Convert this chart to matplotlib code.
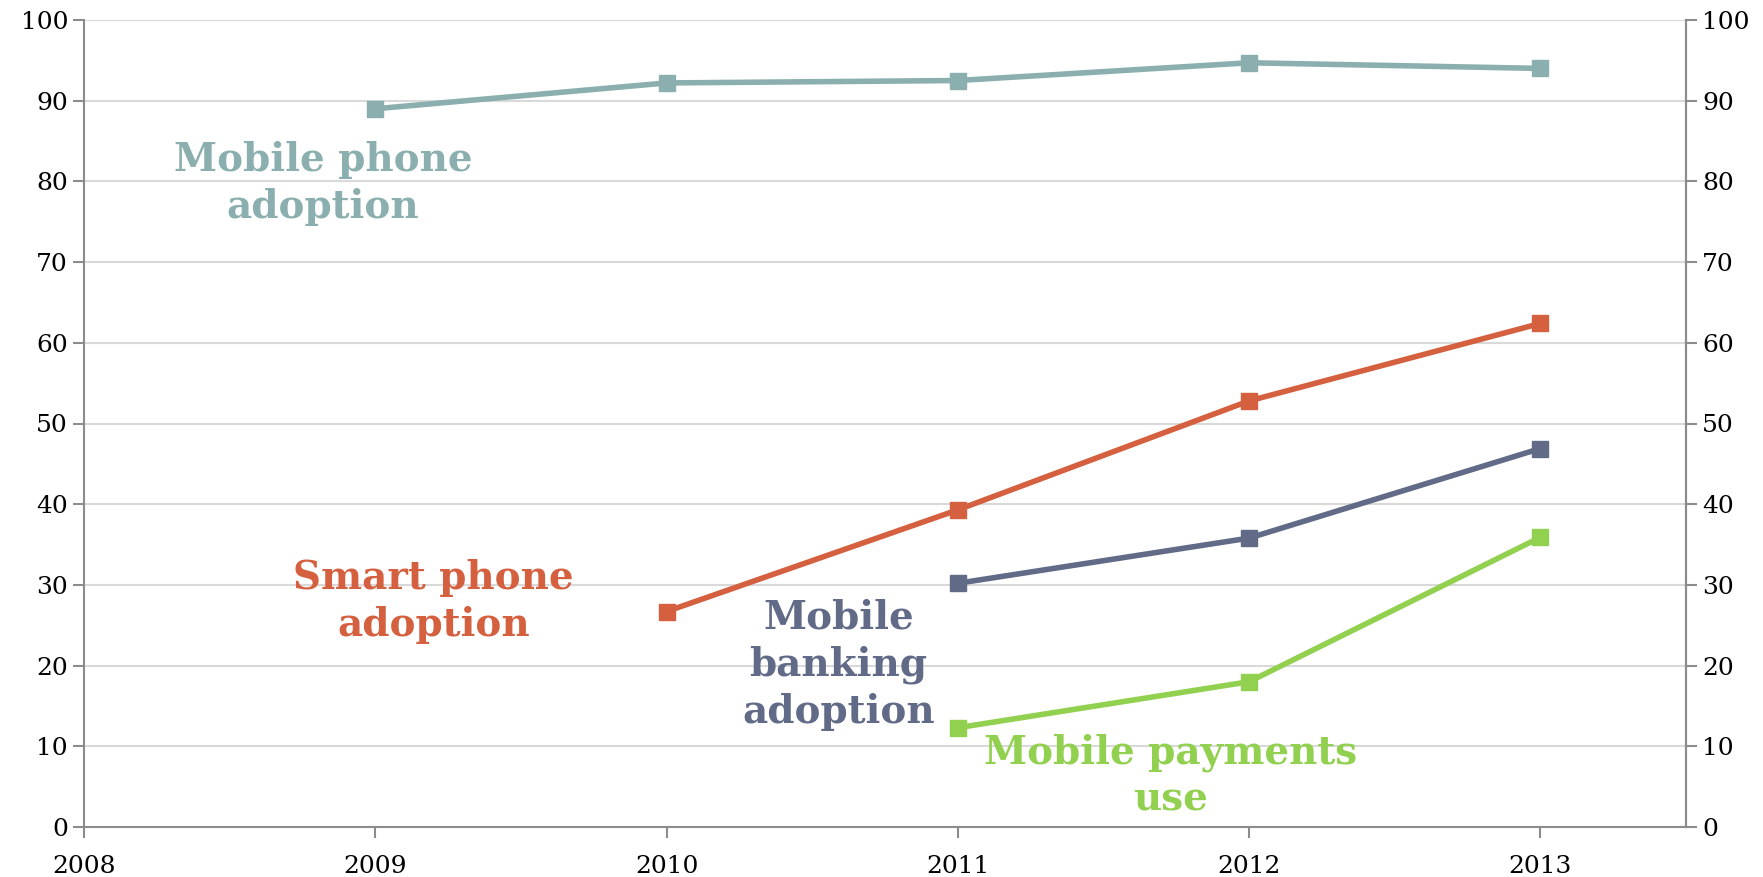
import numpy as np
import matplotlib.pyplot as plt

plt.rcParams['font.family'] = ['DejaVu Serif']

years = [2008, 2009, 2010, 2011, 2012, 2013]

phone_years = [2009, 2010, 2011, 2012, 2013]
phone = [89.0, 92.2, 92.5, 94.7, 94.0]

smart_years = [2010, 2011, 2012, 2013]
smart = [26.7, 39.3, 52.8, 62.4]

banking_years = [2011, 2012, 2013]
banking = [30.2, 35.8, 46.9]

payments_years = [2011, 2012, 2013]
payments = [12.3, 18.0, 35.9]

c_phone = '#8AAFAE'
c_smart = '#D4603F'
c_bank = '#616A87'
c_pay = '#92D050'
axis_grey = '#8C8C8C'

fig = plt.figure(figsize=(17.63, 8.77), dpi=100)
ax = fig.add_axes([84 / 1763, 1 - 827 / 877, (1686 - 84) / 1763, (827 - 20) / 877])

ax.set_xlim(2008, 2013.5)
ax.set_ylim(0, 100)
ax.set_yticks(np.arange(0, 101, 10))
ax.set_xticks(years)
ax.set_xticklabels([str(y) for y in years])
ax.grid(axis='y', color='#D9D9D9', linewidth=1.5)
ax.set_axisbelow(True)

ax.spines['top'].set_visible(False)
for s in ['left', 'right', 'bottom']:
    ax.spines[s].set_color(axis_grey)
    ax.spines[s].set_linewidth(1.5)

ax.tick_params(axis='both', colors=axis_grey, labelcolor='black', labelsize=18,
               width=1.5, length=8)
ax.tick_params(axis='x', pad=12)

ax2 = ax.twinx()
ax2.set_ylim(0, 100)
ax2.set_yticks(np.arange(0, 101, 10))
ax2.tick_params(axis='y', colors=axis_grey, labelcolor='black', labelsize=18,
                width=1.5, length=8)
for s in ['top', 'left', 'bottom']:
    ax2.spines[s].set_visible(False)
ax2.spines['right'].set_color(axis_grey)
ax2.spines['right'].set_linewidth(1.5)

line_kw = dict(marker='s', markersize=12, linewidth=4, clip_on=False)
ax.plot(phone_years, phone, color=c_phone, **line_kw)
ax.plot(smart_years, smart, color=c_smart, **line_kw)
ax.plot(banking_years, banking, color=c_bank, **line_kw)
ax.plot(payments_years, payments, color=c_pay, **line_kw)

# series names written next to their lines
label_kw = dict(fontsize=28, fontweight='bold', ha='center', va='center',
                linespacing=1.3)
ax.text(2008.82, 79.7, 'Mobile phone\nadoption', color=c_phone, **label_kw)
ax.text(2009.20, 28.0, 'Smart phone\nadoption', color=c_smart, **label_kw)
ax.text(2010.59, 20.1, 'Mobile\nbanking\nadoption', color=c_bank, **label_kw)
ax.text(2011.73, 6.3, 'Mobile payments\nuse', color=c_pay, **label_kw)

fig.savefig('out.png', dpi=100)
